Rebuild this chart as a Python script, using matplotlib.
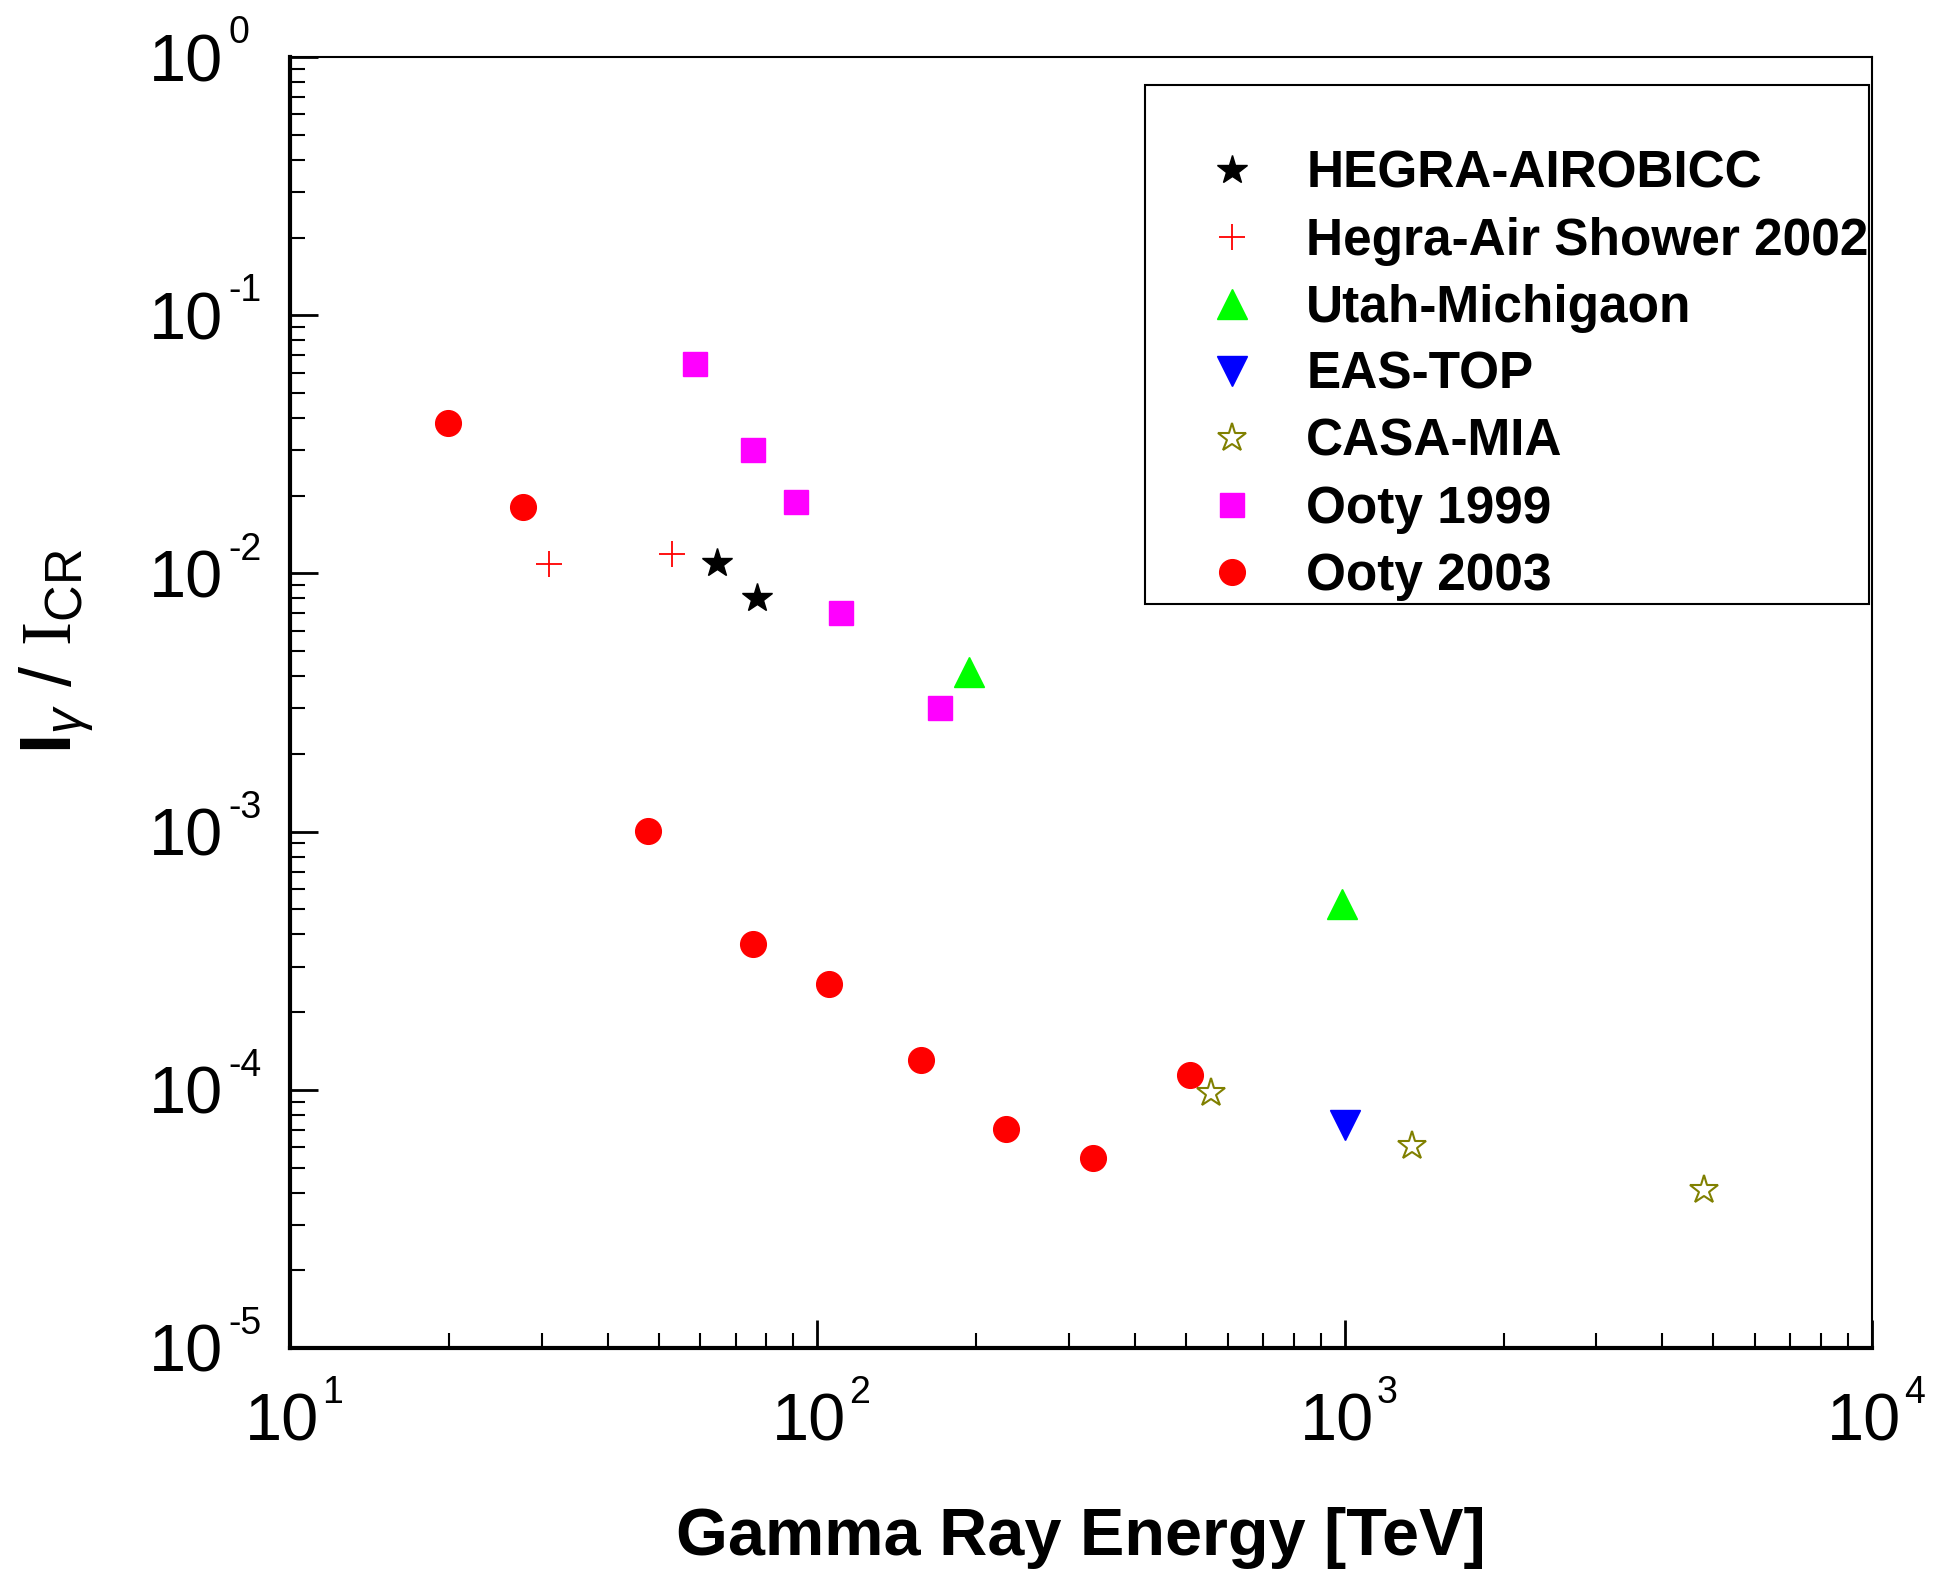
import matplotlib
matplotlib.use("Agg")
import matplotlib.pyplot as plt
from matplotlib.patches import Rectangle
from matplotlib.ticker import FuncFormatter, NullFormatter, FixedLocator
from matplotlib.transforms import ScaledTranslation

plt.rcParams['font.family'] = ['Liberation Sans', 'DejaVu Sans']
plt.rcParams['mathtext.fontset'] = 'custom'
plt.rcParams['mathtext.rm'] = 'Liberation Sans'
plt.rcParams['mathtext.bf'] = 'Liberation Sans:bold'
plt.rcParams['mathtext.it'] = 'Liberation Sans:italic'
plt.rcParams['mathtext.tt'] = 'Liberation Serif'

# data (energy in TeV, flux ratio)
hegra_airobicc_e = [64.5, 76.7]
hegra_airobicc_r = [0.0110, 0.0080]

hegra_shower_e = [31.0, 52.9]
hegra_shower_r = [0.0109, 0.0119]

utah_e = [194, 990]
utah_r = [0.00414, 0.000524]

eastop_e = [1000]
eastop_r = [7.3e-5]

casa_e = [557, 1340, 4790]
casa_r = [9.75e-5, 6.07e-5, 4.08e-5]

ooty99_e = [58.6, 75.4, 91.1, 110.6, 171]
ooty99_r = [0.0647, 0.030, 0.0189, 0.00702, 0.00301]

ooty03_e = [19.9, 27.7, 47.7, 75.4, 105.4, 157, 227.6, 333.8, 508]
ooty03_r = [0.0382, 0.0181, 0.00101, 3.68e-4, 2.56e-4, 1.31e-4, 7.08e-5, 5.43e-5, 1.14e-4]

x_exponents = [1, 2, 3, 4]
y_exponents = [0, -1, -2, -3, -4, -5]

fig = plt.figure(figsize=(19.34, 15.87), dpi=100)
ax = fig.add_axes([0.150, 0.1506, 0.818, 0.8134])

h1, = ax.plot(hegra_airobicc_e, hegra_airobicc_r, ls='none', marker='*', ms=22,
              color='black', label='HEGRA-AIROBICC')
h2, = ax.plot(hegra_shower_e, hegra_shower_r, ls='none', marker='+', ms=19, mew=1.3,
              color='red', label='Hegra-Air Shower 2002')
h3, = ax.plot(utah_e, utah_r, ls='none', marker='^', ms=21, color='#00ff00',
              label='Utah-Michigaon')
h4, = ax.plot(eastop_e, eastop_r, ls='none', marker='v', ms=21, color='#0000ff',
              label='EAS-TOP')
h5, = ax.plot(casa_e, casa_r, ls='none', marker='*', ms=21, mfc='none', mew=1.5,
              color='#808000', label='CASA-MIA')
h6, = ax.plot(ooty99_e, ooty99_r, ls='none', marker='s', ms=17, color='#ff00ff',
              label='Ooty 1999')
h7, = ax.plot(ooty03_e, ooty03_r, ls='none', marker='o', ms=18.5, color='red',
              label='Ooty 2003')

ax.set_xscale('log')
ax.set_yscale('log')
ax.set_xlim(10, 1e4)
ax.set_ylim(1e-5, 1)

ax.spines['left'].set_linewidth(3)
ax.spines['bottom'].set_linewidth(3)
ax.spines['top'].set_linewidth(1.5)
ax.spines['right'].set_linewidth(1.5)

# "10" as tick label, exponent added as a smaller text
ax.xaxis.set_major_locator(FixedLocator([10.0 ** e for e in x_exponents]))
ax.yaxis.set_major_locator(FixedLocator([10.0 ** e for e in y_exponents]))
ax.xaxis.set_major_formatter(FuncFormatter(lambda v, p: '10'))
ax.yaxis.set_major_formatter(FuncFormatter(lambda v, p: '10'))
ax.xaxis.set_minor_formatter(NullFormatter())
ax.yaxis.set_minor_formatter(NullFormatter())

ax.tick_params(which='both', direction='in', top=False, right=False)
ax.tick_params(which='major', length=20, width=2)
ax.tick_params(which='minor', length=11, width=1.5)
ax.tick_params(axis='x', which='major', labelsize=48, pad=32)
ax.tick_params(axis='y', which='major', labelsize=48, pad=48)

shift = ScaledTranslation(-0.08, 0, fig.dpi_scale_trans)
for lab in ax.xaxis.get_majorticklabels():
    lab.set_transform(lab.get_transform() + shift)

for e in x_exponents:
    ax.annotate(str(e), xy=(10.0 ** e, 0), xycoords=('data', 'axes fraction'),
                xytext=(23, -39.5), textcoords='offset points',
                ha='left', va='baseline', fontsize=27)
for e in y_exponents:
    ax.annotate(str(e), xy=(0, 10.0 ** e), xycoords=('axes fraction', 'data'),
                xytext=(-44.6, 10), textcoords='offset points',
                ha='left', va='baseline', fontsize=27)

ax.set_xlabel('Gamma Ray Energy [TeV]', fontsize=48, fontweight='bold', labelpad=38)
ax.set_ylabel(r'$\mathbf{I}_{\gamma}$ / $\mathtt{I}_{\mathrm{CR}}$', fontsize=52)
ax.yaxis.set_label_coords(-0.123, 0.54)

# legend box
fig.add_artist(Rectangle((0.592, 0.6194), 0.3744, 0.327, transform=fig.transFigure,
                         fill=False, ec='black', lw=1.5))
ax.legend(handles=[h1, h2, h3, h4, h5, h6, h7], loc='upper left',
          bbox_to_anchor=(1206 / 1934, 1 - 150 / 1587), bbox_transform=fig.transFigure,
          frameon=False, borderpad=0, borderaxespad=0, handlelength=1.0,
          handletextpad=0.95, labelspacing=0.35, numpoints=1,
          prop={'size': 37, 'weight': 'bold'})

fig.savefig('out.png', dpi=100)
